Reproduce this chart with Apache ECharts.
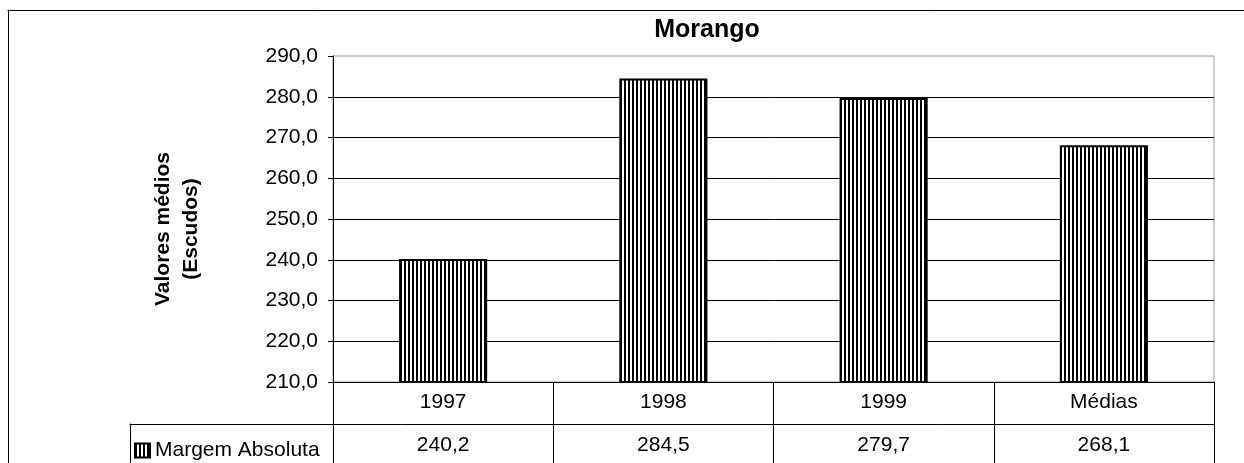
<!DOCTYPE html>
<html>
<head>
<meta charset="utf-8">
<script src="https://cdn.jsdelivr.net/npm/echarts@6/dist/echarts.min.js"></script>
<style>
html,body{margin:0;padding:0;background:#fff;}
#chart{width:1244px;height:463px;}
</style>
</head>
<body>
<div id="chart"></div>
<script>
const titleText = 'Morango';
const yAxisName = 'Valores médios\n(Escudos)';
const seriesName = 'Margem Absoluta';
const categories = ['1997', '1998', '1999', 'Médias'];
const values = [240.2, 284.5, 279.7, 268.1];
const yMin = 210, yMax = 290, yStep = 10;

const fmt = v => Number(v).toFixed(1).replace('.', ',');
const FONT = 'Liberation Sans, Arial, Helvetica, sans-serif';

// vertical stripe pattern
const pc = document.createElement('canvas');
pc.width = 4; pc.height = 4;
const pctx = pc.getContext('2d');
pctx.fillStyle = '#fff'; pctx.fillRect(0, 0, 4, 4);
pctx.fillStyle = '#000'; pctx.fillRect(0, 0, 2, 4);

const chart = echarts.init(document.getElementById('chart'), null, {renderer: 'canvas'});
const hiddenAxis = {show: false};
const frameLine = {show: true, onZero: false, lineStyle: {color: '#000', width: 1}};
chart.setOption({
  animation: false,
  backgroundColor: '#fff',
  textStyle: {fontFamily: FONT, color: '#000'},
  title: {
    text: titleText, left: 707, textAlign: 'center', top: 18, padding: 0,
    textStyle: {fontFamily: FONT, fontSize: 25, fontWeight: 'bold', color: '#000'}
  },
  legend: {
    data: [{name: seriesName, icon: 'rect'}], left: 134, top: 440, padding: 0,
    itemWidth: 15, itemHeight: 14, itemGap: 5,
    textStyle: {fontFamily: FONT, fontSize: 21, color: '#000'}
  },
  grid: [
    {left: 333, top: 56, right: 30, bottom: 81, show: true, borderColor: '#999', borderWidth: 1, backgroundColor: 'transparent'},
    {left: 333, top: 382, right: 30, height: 120},
    {left: 130, top: 424, right: 30, height: 100},
    {left: 8, top: 10, right: -300, bottom: -300}
  ],
  xAxis: [
    {type: 'category', gridIndex: 0, data: categories, boundaryGap: true,
     axisLine: {show: true, lineStyle: {color: '#000', width: 1}},
     axisTick: {show: false}, axisLabel: {show: false}, splitLine: {show: false}},
    {type: 'category', gridIndex: 1, data: categories, position: 'top', boundaryGap: true,
     axisLine: {show: false}, axisTick: {show: false},
     axisLabel: {show: true, inside: true, margin: 20, verticalAlign: 'middle', fontSize: 21, color: '#000', fontFamily: FONT},
     splitLine: {show: true, lineStyle: {color: '#000', width: 1}}},
    {type: 'category', gridIndex: 1, data: categories, position: 'top', boundaryGap: true,
     axisLine: {show: false}, axisTick: {show: false},
     axisLabel: {show: true, inside: true, margin: 63, verticalAlign: 'middle', fontSize: 21, color: '#000', fontFamily: FONT,
                 formatter: (v, i) => fmt(values[i])},
     splitLine: {show: false}},
    {type: 'value', gridIndex: 2, position: 'top', axisLine: frameLine,
     axisTick: {show: false}, axisLabel: {show: false}, splitLine: {show: false}},
    {type: 'value', gridIndex: 3, position: 'top', axisLine: frameLine,
     axisTick: {show: false}, axisLabel: {show: false}, splitLine: {show: false}}
  ],
  yAxis: [
    {type: 'value', gridIndex: 0, min: yMin, max: yMax, interval: yStep,
     name: yAxisName, nameLocation: 'middle', nameRotate: 90, nameGap: 128,
     nameTextStyle: {fontFamily: FONT, fontSize: 21, fontWeight: 'bold', lineHeight: 28, color: '#000', padding: [0, 20, 0, 0]},
     axisLine: {show: true, lineStyle: {color: '#000', width: 1}},
     axisTick: {show: true, length: 5, lineStyle: {color: '#000'}},
     axisLabel: {show: true, margin: 15, fontSize: 21, color: '#000', fontFamily: FONT, formatter: v => fmt(v)},
     splitLine: {show: true, showMaxLine: false, lineStyle: {color: '#000', width: 1}}},
    Object.assign({type: 'value', gridIndex: 1}, hiddenAxis),
    {type: 'value', gridIndex: 2, position: 'left', axisLine: frameLine,
     axisTick: {show: false}, axisLabel: {show: false}, splitLine: {show: false}},
    {type: 'value', gridIndex: 3, position: 'left', axisLine: frameLine,
     axisTick: {show: false}, axisLabel: {show: false}, splitLine: {show: false}}
  ],
  series: [{
    name: seriesName, type: 'bar', xAxisIndex: 0, yAxisIndex: 0,
    data: values, barWidth: '40%',
    itemStyle: {color: {image: pc, repeat: 'repeat'}, borderColor: '#000', borderWidth: 2}
  }]
});
</script>
</body>
</html>
